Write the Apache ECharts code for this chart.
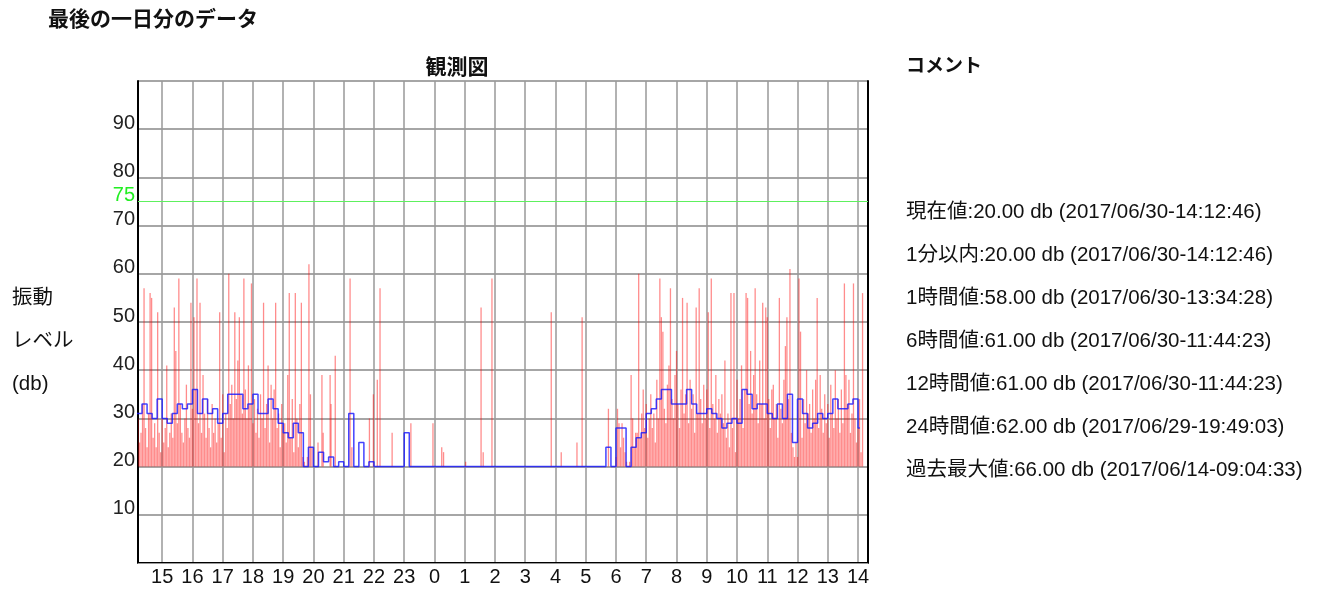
<!DOCTYPE html>
<html>
<head>
<meta charset="utf-8">
<title>最後の一日分のデータ</title>
<script src="https://cdn.jsdelivr.net/npm/echarts@6/dist/echarts.min.js"></script>
<style>
    html, body { margin: 0; padding: 0; background: #fff; }
    #chart { width: 1339px; height: 597px; }
</style>
</head>
<body>
<div id="chart"></div>
<script>
// hours are counted from 00:00 of 2017/06/29 (so 30 = 06:00 on 06/30)
var axisStart = 14.2;
var axisEnd = 38.33;
var hourTicks = [15, 16, 17, 18, 19, 20, 21, 22, 23, 24, 25, 26, 27, 28, 29, 30, 31, 32, 33, 34, 35, 36, 37, 38];
var dbTicks = [10, 20, 30, 40, 50, 60, 70, 75, 80, 90];
var alarmLevel = 75;
var baseLevel = 20;

// blue: 10 minute averages, first bin starts 14:10
var blueStart = 14 + 10 / 60;
var blueStep = 10 / 60;
var blueEnd = 38.06;
var blueAvg = [
    31, 33, 31, 30, 34, 30, 29, 31, 33, 32,
    33, 36, 31, 34, 31, 32, 29, 31, 35, 35,
    35, 32, 33, 35, 31, 31, 34, 32, 29, 27,
    26, 29, 27, 20, 24, 20, 23, 21, 22, 20,
    21, 20, 31, 20, 25, 20, 21, 20, 20, 20,
    20, 20, 20, 27, 20, 20, 20, 20, 20, 20,
    20, 20, 20, 20, 20, 20, 20, 20, 20, 20,
    20, 20, 20, 20, 20, 20, 20, 20, 20, 20,
    20, 20, 20, 20, 20, 20, 20, 20, 20, 20,
    20, 20, 20, 24, 20, 28, 28, 20, 24, 26,
    27, 31, 32, 34, 36, 36, 33, 33, 33, 36,
    33, 31, 31, 32, 31, 30, 28, 29, 30, 29,
    36, 35, 32, 33, 33, 31, 30, 33, 30, 35,
    25, 34, 31, 28, 29, 31, 30, 31, 34, 32,
    32, 33, 34, 28
];

// red: peak values, every 3 minutes from 14:12 to 19:57
var eveStart = 14.2;
var peakStep = 0.05;
var evePeaks = [
    30, 25, 27, 33, 57, 28, 24, 31, 56, 55,
    26, 29, 24, 52, 27, 23, 30, 25, 28, 41,
    24, 27, 31, 26, 53, 44, 29, 59, 33, 27,
    25, 30, 37, 28, 26, 54, 32, 51, 36, 59,
    29, 54, 27, 39, 31, 26, 34, 28, 24, 33,
    27, 30, 25, 29, 52, 26, 35, 23, 31, 28,
    60, 33, 37, 30, 52, 34, 42, 51, 35, 31,
    59, 36, 30, 41, 33, 58, 29, 34, 27, 32,
    26, 35, 30, 54, 28, 33, 41, 25, 37, 30,
    36, 54, 28, 31, 24, 33, 27, 29, 25, 39,
    56, 26, 34, 23, 56, 30, 24, 33, 54, 22,
    21, 20, 22, 62, 35, 24
];

// red: the few peaks during the night
var nightHours = [20.15, 20.28, 20.32, 20.55, 20.58, 20.72, 21.21, 21.27, 21.85, 21.98,
    22.11, 22.2, 22.6, 23.22, 23.95, 24.24, 24.3, 25.03, 25.54, 25.61,
    25.9, 27.86, 28.19, 28.71, 28.88, 29.75];
var nightPeaks = [25, 39, 27, 39, 33, 43, 59, 24, 30, 35,
    38, 57, 27, 29, 29, 24, 23, 21, 53, 23,
    59, 52, 23, 25, 51, 32];

// red: every 3 minutes from 06:00 to 14:09
var dayStart = 30;
var dayPeaks = [
    22, 32, 29, 24, 29, 26, 23, 21, 20, 21,
    39, 30, 24, 27, 27, 60, 26, 31, 36, 28,
    33, 26, 30, 35, 28, 31, 25, 38, 30, 59,
    51, 48, 32, 29, 37, 41, 57, 34, 30, 39,
    44, 33, 28, 36, 55, 31, 35, 54, 29, 38,
    32, 35, 27, 53, 31, 57, 34, 29, 37, 30,
    36, 52, 28, 59, 33, 30, 39, 27, 34, 31,
    35, 29, 42, 26, 31, 24, 56, 28, 56, 23,
    38, 30, 34, 41, 28, 36, 56, 55, 33, 44,
    31, 39, 57, 35, 29, 42, 33, 54, 30, 53,
    51, 34, 28, 36, 37, 30, 33, 26, 55, 32,
    29, 38, 45, 51, 34, 61, 27, 24, 22, 25,
    22, 59, 48, 26, 34, 29, 40, 31, 33, 27,
    36, 30, 38, 55, 28, 39, 32, 27, 35, 29,
    33, 26, 37, 31, 28, 40, 30, 34, 27, 36,
    29, 58, 39, 33, 38, 27, 31, 58, 30, 25,
    28, 34, 23, 56
];

// コメント
var statNames = ['現在値', '1分以内', '1時間値', '6時間値', '12時間値', '24時間値', '過去最大値'];
var statValues = [20, 20, 58, 61, 61, 62, 66];
var statTimes = ['2017/06/30-14:12:46', '2017/06/30-14:12:46', '2017/06/30-13:34:28',
    '2017/06/30-11:44:23', '2017/06/30-11:44:23', '2017/06/29-19:49:03', '2017/06/14-09:04:33'];

var yLabels = ['振動', 'レベル', '(db)'];

var FONT = '"Liberation Sans", "Noto Sans CJK JP", sans-serif';
var FONT_JP = '"Noto Sans CJK JP", sans-serif';

function buildBlue() {
    var out = [];
    for (var k = 0; k < blueAvg.length; k++) {
        out.push([blueStart + k * blueStep, blueAvg[k]]);
    }
    out.push([blueEnd, blueAvg[blueAvg.length - 1]]);
    return out;
}

function buildRed() {
    var out = [];
    var i;
    for (i = 0; i < evePeaks.length; i++) out.push([eveStart + i * peakStep, evePeaks[i]]);
    for (i = 0; i < nightPeaks.length; i++) out.push([nightHours[i], nightPeaks[i]]);
    for (i = 0; i < dayPeaks.length; i++) out.push([dayStart + i * peakStep, dayPeaks[i]]);
    return out;
}

// 縦線 (base level -> peak)
function renderSpike(params, api) {
    var top = api.coord([api.value(0), api.value(1)]);
    var base = api.coord([api.value(0), baseLevel]);
    return {
        type: 'line',
        shape: { x1: top[0], y1: base[1], x2: top[0], y2: top[1] },
        style: { stroke: 'rgba(255,0,0,0.45)', lineWidth: 1.3 }
    };
}

function textItems() {
    var items = [
        { type: 'text', x: 48, y: 18, style: { text: '最後の一日分のデータ', fontFamily: FONT_JP, fontSize: 21, fontWeight: 'bold', fill: '#111', verticalAlign: 'middle' } },
        { type: 'text', x: 457, y: 66, style: { text: '観測図', fontFamily: FONT_JP, fontSize: 21, fontWeight: 'bold', fill: '#111', align: 'center', verticalAlign: 'middle' } },
        { type: 'text', x: 906, y: 65, style: { text: 'コメント', fontFamily: FONT_JP, fontSize: 19, fontWeight: 'bold', fill: '#111', verticalAlign: 'middle' } }
    ];
    for (var j = 0; j < yLabels.length; j++) {
        items.push({ type: 'text', x: 12, y: 298 + j * 43, style: { text: yLabels[j], fontFamily: FONT, fontSize: 20.5, fill: '#111', verticalAlign: 'middle' } });
    }
    for (var i = 0; i < statNames.length; i++) {
        items.push({
            type: 'text', x: 906, y: 212.5 + i * 43,
            style: {
                text: statNames[i] + ':' + statValues[i].toFixed(2) + ' db (' + statTimes[i] + ')',
                fontFamily: FONT, fontSize: 20.5, fill: '#111', verticalAlign: 'middle'
            }
        });
    }
    return items;
}

var myChart = echarts.init(document.getElementById('chart'));

var option = {
    animation: false,
    backgroundColor: '#fff',
    graphic: textItems(),
    grid: { left: 138, right: 471, top: 81, bottom: 34 },
    xAxis: [{
        type: 'value',
        min: axisStart,
        max: axisEnd,
        axisLine: { show: true, lineStyle: { color: '#000', width: 2 } },
        axisTick: { show: false, customValues: hourTicks },
        axisLabel: {
            customValues: hourTicks,
            formatter: function (v) { return String(v % 24); },
            fontFamily: FONT, fontSize: 20, color: '#111', margin: 4
        },
        splitLine: { show: true, lineStyle: { color: '#999', width: 1.5 } }
    }, {
        type: 'value',
        position: 'top',
        min: axisStart,
        max: axisEnd,
        axisLine: { show: true, lineStyle: { color: '#999', width: 1 } },
        axisTick: { show: false },
        axisLabel: { show: false },
        splitLine: { show: false }
    }],
    yAxis: [{
        type: 'value',
        min: 0,
        max: 100,
        interval: 10,
        axisLine: { show: true, lineStyle: { color: '#000', width: 2 } },
        axisTick: { show: false },
        axisLabel: {
            customValues: dbTicks,
            fontFamily: FONT, fontSize: 20, margin: 3,
            verticalAlign: 'bottom', lineHeight: 12,
            color: function (v) { return Number(v) === alarmLevel ? '#22ee22' : '#222'; }
        },
        splitLine: { show: true, lineStyle: { color: '#888', width: 1.5 } }
    }, {
        type: 'value',
        position: 'right',
        min: 0,
        max: 100,
        axisLine: { show: true, lineStyle: { color: '#000', width: 2 } },
        axisTick: { show: false },
        axisLabel: { show: false },
        splitLine: { show: false }
    }],
    series: [{
        name: 'ピーク',
        type: 'custom',
        renderItem: renderSpike,
        clip: true,
        encode: { x: 0, y: 1 },
        data: buildRed(),
        z: 2,
        markLine: {
            silent: true,
            symbol: 'none',
            label: { show: false },
            lineStyle: { color: '#5ef05e', width: 1, type: 'solid' },
            data: [{ yAxis: alarmLevel }]
        }
    }, {
        name: '平均',
        type: 'line',
        step: 'end',
        showSymbol: false,
        clip: true,
        data: buildBlue(),
        lineStyle: { color: 'rgba(20,20,255,0.8)', width: 1.5 },
        z: 3
    }]
};

myChart.setOption(option);
</script>
</body>
</html>
